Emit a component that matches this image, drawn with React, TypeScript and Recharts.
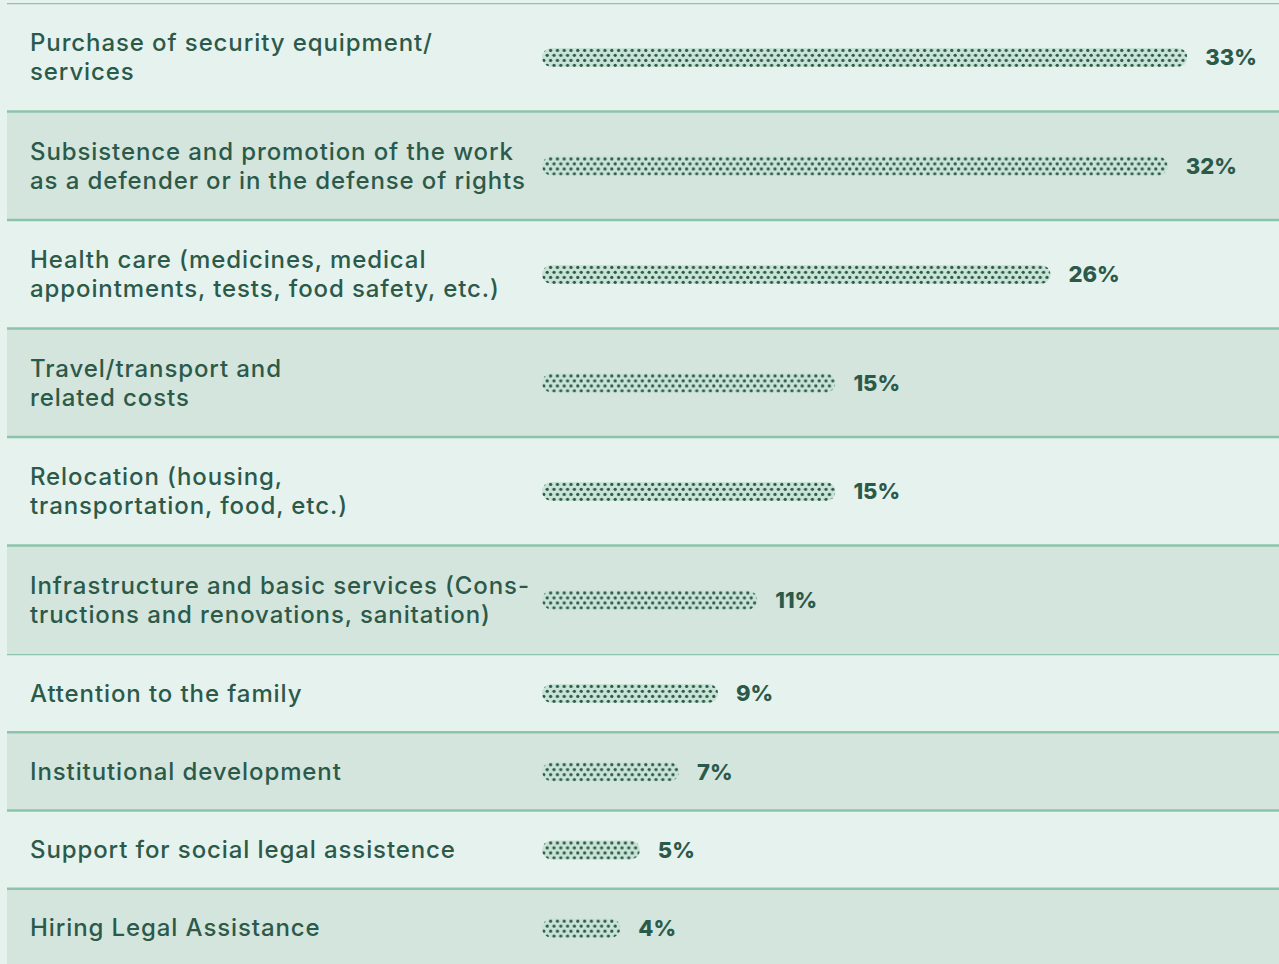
import React from 'react';
import { BarChart, Bar, XAxis, YAxis, ReferenceArea, ReferenceLine, LabelList } from 'recharts';

// labels keep the line breaks of the original layout
const categories = [
  'Purchase of security equipment/\nservices',
  'Subsistence and promotion of the work\nas a defender or in the defense of rights',
  'Health care (medicines, medical\nappointments, tests, food safety, etc.)',
  'Travel/transport and\nrelated costs',
  'Relocation (housing,\ntransportation, food, etc.)',
  'Infrastructure and basic services (Cons-\ntructions and renovations, sanitation)',
  'Attention to the family',
  'Institutional development',
  'Support for social legal assistence',
  'Hiring Legal Assistance',
];
const shares = [33, 32, 26, 15, 15, 11, 9, 7, 5, 4];

const rows = categories.map((name, i) => ({ name, value: shares[i], idx: i }));
const topRows = rows.slice(0, 6);
const bottomRows = rows.slice(6);

const PAGE_BG = '#e6f2ee';
const DARK_ROW = '#d4e5dd';
const RULE = '#8bc4aa';
const INK = '#2c5a4a';
const BAR_BASE = '#c9e3d6';
const FONT = 'Inter, "Open Sans", sans-serif';

// 0% sits at x=542 on the page, ~19.55px per percent
const X_DOMAIN: [number, number] = [-27.37, 37.69];

// category text drawn at the left of each row, centred on the bar
function CategoryLabel(props: any) {
  const { y, height, value } = props;
  const lines = String(value).split('\n');
  const lh = 29;
  const cy = y + height / 2 - 1;
  const y0 = cy - ((lines.length - 1) * lh) / 2;
  return (
    <text
      x={23}
      y={y0}
      fill={INK}
      fontSize={24}
      fontWeight={500}
      fontFamily={FONT}
      letterSpacing={0.9}
      dominantBaseline="central"
    >
      {lines.map((l, i) => (
        <tspan key={i} x={23} y={y0 + i * lh}>{l}</tspan>
      ))}
    </text>
  );
}

function DottedBar(props: any) {
  const { x, y, width, height, index, chartKey } = props;
  if (!width || width <= 0) return null;
  const r = height / 2;
  const id = `dots-${chartKey}-${index}`;
  return (
    <g>
      <defs>
        <pattern id={id} patternUnits="userSpaceOnUse" x={x} y={y} width={6.8} height={10}>
          <circle cx={1.7} cy={2.4} r={1.65} fill={INK} />
          <circle cx={5.1} cy={7.3} r={1.65} fill={INK} />
        </pattern>
      </defs>
      <rect x={x} y={y} width={width} height={height} rx={r} fill={BAR_BASE} />
      <rect x={x} y={y} width={width} height={height} rx={r} fill={`url(#${id})`} />
    </g>
  );
}

function RowChart({ data, height, chartKey }: { data: typeof rows; height: number; chartKey: string }) {
  return (
    <BarChart layout="vertical" width={1272} height={height} data={data} margin={{ top: 0, right: 0, bottom: 0, left: 0 }}>
      <XAxis type="number" domain={X_DOMAIN} allowDataOverflow hide />
      <YAxis type="category" dataKey="name" hide />
      {data.map((d) =>
        d.idx % 2 === 1 ? (
          <ReferenceArea key={'a' + d.idx} y1={d.name} y2={d.name} fill={DARK_ROW} fillOpacity={1} stroke="none" />
        ) : null
      )}
      {data.map((d) => (
        <ReferenceLine key={'l' + d.idx} y={d.name} position="start" stroke={RULE} strokeWidth={2.4} />
      ))}
      <Bar dataKey="value" barSize={19} isAnimationActive={false} shape={(p: any) => <DottedBar {...p} chartKey={chartKey} />}>
        <LabelList dataKey="name" content={<CategoryLabel />} />
        <LabelList
          dataKey="value"
          position="right"
          offset={18}
          formatter={(v: any) => `${v}%`}
          fill={INK}
          fontSize={22}
          fontWeight={800}
          fontFamily={FONT}
        />
      </Bar>
    </BarChart>
  );
}

export default function App() {
  return (
    <div style={{ position: 'relative', width: 1279, height: 964, background: PAGE_BG, overflow: 'hidden' }}>
      <style>{`body{margin:0}`}</style>
      <div style={{ position: 'absolute', left: 7, top: 3 }}>
        <RowChart data={topRows} height={651} chartKey="top" />
      </div>
      <div style={{ position: 'absolute', left: 7, top: 654 }}>
        <RowChart data={bottomRows} height={313} chartKey="bottom" />
      </div>
    </div>
  );
}
